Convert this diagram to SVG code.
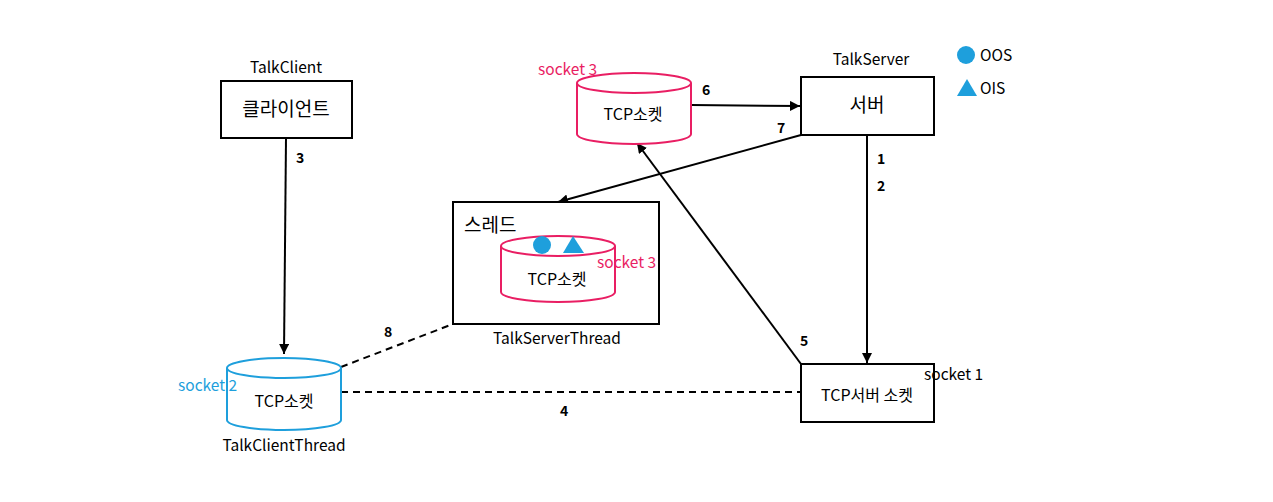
<svg xmlns="http://www.w3.org/2000/svg" width="1273" height="502" viewBox="0 0 1273 502">
<style>
text{font-family:"Noto Sans CJK KR","Liberation Sans",sans-serif;font-size:15.5px;fill:#000}
.big{font-size:19px}
.mk{font-size:16px}
.num{font-weight:bold;font-size:14px}
.pink{fill:#E91E63}
.blue{fill:#1E9FDC}
.box{fill:#fff;stroke:#000;stroke-width:2}
.cp{fill:#fff;stroke:#E91E63;stroke-width:2}
.cb{fill:#fff;stroke:#1E9FDC;stroke-width:2}
.ln{stroke:#000;stroke-width:2;fill:none}
.dash{stroke:#000;stroke-width:2;fill:none;stroke-dasharray:7,5}
.mid{text-anchor:middle}
</style>
<defs>
<marker id="ah" viewBox="0 0 10 10" refX="10" refY="5" markerWidth="5" markerHeight="5" orient="auto" markerUnits="strokeWidth">
<path d="M0,0 L10,5 L0,10 z" fill="#000"/>
</marker>
</defs>
<rect width="1273" height="502" fill="#fff"/>

<g id="connectors">
<line class="ln" x1="286" y1="138" x2="284" y2="354" marker-end="url(#ah)"/>
<line class="ln" x1="691" y1="105" x2="800" y2="106" marker-end="url(#ah)"/>
<line class="ln" x1="801" y1="135" x2="558" y2="202" marker-end="url(#ah)"/>
<line class="ln" x1="867" y1="135" x2="867" y2="363" marker-end="url(#ah)"/>
<line class="ln" x1="801" y1="364" x2="637" y2="143" marker-end="url(#ah)"/>
<line class="dash" x1="341" y1="367" x2="453" y2="324"/>
<line class="dash" x1="341" y1="392" x2="801" y2="392"/>
<text class="num" x="296" y="163">3</text>
<text class="num" x="702" y="95">6</text>
<text class="num" x="777" y="133">7</text>
<text class="num" x="877" y="164">1</text>
<text class="num" x="877" y="191">2</text>
<text class="num" x="800" y="346">5</text>
<text class="num" x="384" y="337">8</text>
<text class="num" x="560" y="416">4</text>
</g>

<g id="client">
<text class="mid" x="286" y="73">TalkClient</text>
<rect class="box" x="221" y="81" width="131" height="57"/>
<text class="mid big" x="286" y="116">클라이언트</text>
</g>

<g id="server">
<text class="mid" x="871" y="65">TalkServer</text>
<rect class="box" x="801" y="77" width="133" height="58"/>
<text class="mid big" x="867" y="112">서버</text>
</g>

<g id="socket3-top">
<path class="cp" d="M577,83 L577,134 A57,10 0 0 0 691,134 L691,83"/>
<ellipse class="cp" cx="634" cy="83" rx="57" ry="10"/>
<text class="mid mk" x="633" y="120">TCP소켓</text>
<text class="pink" x="538" y="75">socket 3</text>
</g>

<g id="thread">
<rect class="box" x="453" y="202" width="206" height="122"/>
<text class="big" x="464" y="232">스레드</text>
<path class="cp" d="M501,246 L501,292 A57,10 0 0 0 615,292 L615,246"/>
<ellipse class="cp" cx="558" cy="246" rx="57" ry="10"/>
<circle cx="542" cy="245" r="9" fill="#1E9FDC"/>
<path d="M563,253 L573,236 L584,253 z" fill="#1E9FDC"/>
<text class="pink" x="597" y="268">socket 3</text>
<text class="mid mk" x="557" y="285">TCP소켓</text>
<text class="mid" x="557" y="344">TalkServerThread</text>
</g>

<g id="client-socket">
<path class="cb" d="M227,368 L227,420 A57,10 0 0 0 341,420 L341,368"/>
<ellipse class="cb" cx="284" cy="368" rx="57" ry="10"/>
<text class="mid mk" x="284" y="407">TCP소켓</text>
<text class="blue" x="178" y="391">socket 2</text>
<text class="mid" x="284" y="451">TalkClientThread</text>
</g>

<g id="server-socket">
<rect class="box" x="801" y="364" width="133" height="58"/>
<text class="mid mk" x="867" y="401">TCP서버 소켓</text>
<text x="924" y="380">socket 1</text>
</g>

<g id="legend">
<circle cx="966" cy="55" r="9" fill="#1E9FDC"/>
<text x="980" y="61">OOS</text>
<path d="M957,96 L967,79 L977,96 z" fill="#1E9FDC"/>
<text x="980" y="94">OIS</text>
</g>
</svg>
